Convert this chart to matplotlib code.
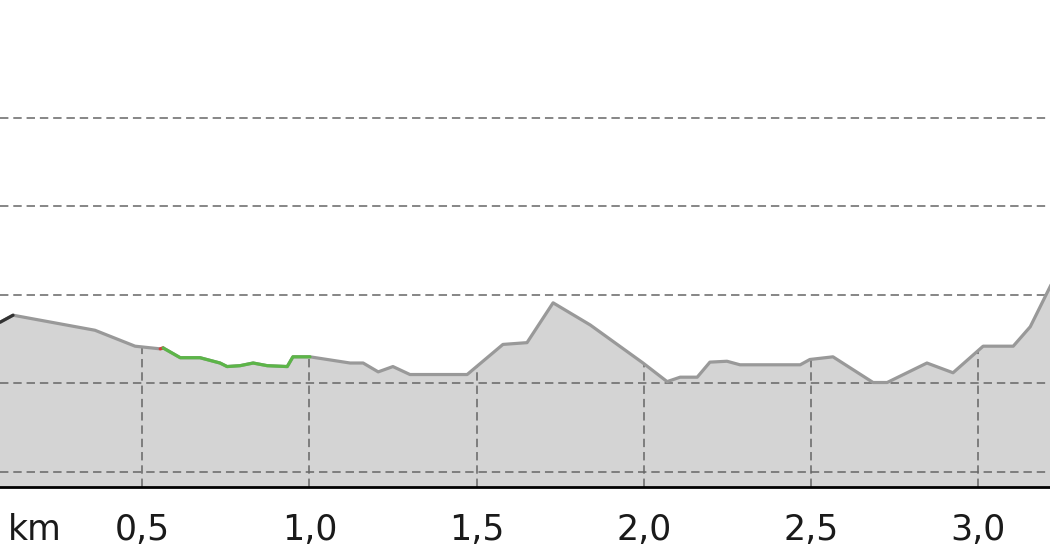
import numpy as np
import matplotlib
matplotlib.use("Agg")
import matplotlib.pyplot as plt

# profile: distance (km) and elevation (m)
km = [0.075, 0.114, 0.359, 0.479, 0.554, 0.563, 0.614, 0.673, 0.733, 0.754,
      0.793, 0.832, 0.874, 0.934, 0.951, 1.002, 1.122, 1.161, 1.206, 1.250,
      1.301, 1.472, 1.579, 1.651, 1.729, 1.840, 1.998, 2.070, 2.109, 2.160,
      2.198, 2.249, 2.288, 2.468, 2.497, 2.566, 2.686, 2.728, 2.847, 2.925,
      3.015, 3.105, 3.156, 3.215, 3.240]
elev = [36.9, 37.7, 36.0, 34.2, 33.9, 34.0, 32.9, 32.9, 32.3, 31.9,
        32.0, 32.3, 32.0, 31.9, 33.0, 33.0, 32.3, 32.3, 31.3, 31.9,
        31.0, 31.0, 34.4, 34.6, 39.1, 36.6, 32.3, 30.2, 30.7, 30.7,
        32.4, 32.5, 32.1, 32.1, 32.7, 33.0, 30.1, 30.1, 32.3, 31.2,
        34.2, 34.2, 36.4, 40.9, 42.8]

# highlighted stretches (index ranges into the profile)
black_part = (0, 1)
red_part = (4, 5)
green_part = (5, 15)

grid_levels = [20, 30, 40, 50, 60]
tick_pos = [0.18, 0.5, 1.0, 1.5, 2.0, 2.5, 3.0]
tick_labels = ["km", "0,5", "1,0", "1,5", "2,0", "2,5", "3,0"]

y0, y1 = 18.3, 73.3

fig = plt.figure(figsize=(10.5, 5.6), dpi=100)
ax = fig.add_axes([0, 0.1304, 1, 0.8696])
ax.set_xlim(0.075, 3.215)
ax.set_ylim(y0, y1)

ax.fill_between(km, elev, y0, color="#d4d4d4", lw=0, zorder=1)

for g in grid_levels:
    ax.axhline(g, color="#666666", lw=1.1, dashes=(5.5, 3.2), zorder=2)
for t in tick_pos[1:]:
    top = np.interp(t, km, elev)
    ax.plot([t, t], [y0, top], color="#666666", lw=1.1, dashes=(5.5, 3.2), zorder=2)

ax.plot(km, elev, color="#999999", lw=2.3, zorder=3, solid_capstyle="round")
for (a, b), c in [(black_part, "#333333"), (red_part, "#d04040"), (green_part, "#5cb548")]:
    ax.plot(km[a:b + 1], elev[a:b + 1], color=c, lw=2.3, zorder=4, solid_capstyle="round")

for s in ["top", "left", "right"]:
    ax.spines[s].set_visible(False)
ax.spines["bottom"].set_linewidth(2)
ax.spines["bottom"].set_color("black")
ax.set_yticks([])
ax.set_xticks(tick_pos)
ax.set_xticklabels(tick_labels)
ax.tick_params(axis="x", length=0, pad=19, labelsize=25, labelcolor="#1a1a1a")

fig.savefig("out.png", dpi=100)
